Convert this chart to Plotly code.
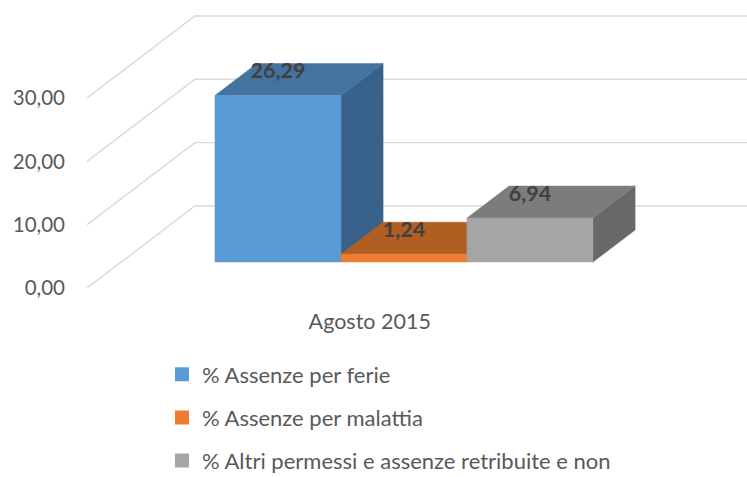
import plotly.graph_objects as go

# ---------------- data ----------------
categories = ["Agosto 2015"]
series_names = [
    "% Assenze per ferie",
    "% Assenze per malattia",
    "% Altri permessi e assenze retribuite e non",
]
series_values = [26.29, 1.24, 6.94]
y_ticks = [0, 10, 20, 30]

# ---------------- styles ----------------
front_colors = ["#5B9BD5", "#ED7D31", "#A5A5A5"]
top_colors = ["#4573A0", "#B15E23", "#7C7C7C"]
side_colors = ["#386289", "#9E521D", "#686868"]
grid_color = "#D9D9D9"
font_family = "Lato, 'Open Sans', sans-serif"

# ---------------- 3D projection geometry (axis units) ----------------
X_MAX = 5.238          # x range of plot area
Y_MAX = 45.47          # y range of plot area
DEPTH_DX = 0.857       # floor depth, x shift
DEPTH_DY = 12.95       # floor depth, y shift
BAR_D0, BAR_D1 = 0.317, 0.707   # bar depth span (fraction of floor depth)
GROUP_X0 = 0.744       # left of bar group in front plane
BAR_W = 1.0


def proj(x, y, d):
    return x + d * DEPTH_DX, y + d * DEPTH_DY


def poly(points):
    xs, ys = [], []
    for x, y, d in points:
        px, py = proj(x, y, d)
        xs.append(px)
        ys.append(py)
    xs.append(xs[0])
    ys.append(ys[0])
    return xs, ys


fig = go.Figure()

# gridlines: diagonal on the left wall + horizontal on back wall
for v in y_ticks:
    x0, y0 = proj(0, v, 0)
    x1, y1 = proj(0, v, 1)
    fig.add_trace(go.Scatter(
        x=[x0, x1, X_MAX], y=[y0, y1, y1], mode="lines",
        line=dict(color=grid_color, width=1.4),
        hoverinfo="skip", showlegend=False))

# bars (painted left to right)
for i, v in enumerate(series_values):
    x0 = GROUP_X0 + i * BAR_W
    x1 = x0 + BAR_W
    faces = [
        ([(x1, 0, BAR_D0), (x1, 0, BAR_D1), (x1, v, BAR_D1), (x1, v, BAR_D0)], side_colors[i]),
        ([(x0, v, BAR_D0), (x1, v, BAR_D0), (x1, v, BAR_D1), (x0, v, BAR_D1)], top_colors[i]),
        ([(x0, 0, BAR_D0), (x1, 0, BAR_D0), (x1, v, BAR_D0), (x0, v, BAR_D0)], front_colors[i]),
    ]
    for pts, col in faces:
        xs, ys = poly(pts)
        fig.add_trace(go.Scatter(
            x=xs, y=ys, mode="lines", fill="toself", fillcolor=col,
            line=dict(color=col, width=0.5),
            hoverinfo="skip", showlegend=False))

# data labels
for i, v in enumerate(series_values):
    xc = GROUP_X0 + i * BAR_W + BAR_W / 2 + BAR_D0 * DEPTH_DX
    yc = v + BAR_D0 * DEPTH_DY + 0.70 * (BAR_D1 - BAR_D0) * DEPTH_DY
    fig.add_trace(go.Scatter(
        x=[xc], y=[yc], mode="text",
        text=[f"{v:.2f}".replace(".", ",")],
        textfont=dict(family=font_family, size=21.5, color="#404040", weight="bold"),
        textposition="middle center",
        hoverinfo="skip", showlegend=False))

# legend entries
for i, name in enumerate(series_names):
    fig.add_trace(go.Scatter(
        x=[None], y=[None], mode="markers", name=name,
        marker=dict(symbol="square", size=14, color=front_colors[i]),
        legendgroup=f"g{i}", showlegend=True))

cat_x = [GROUP_X0 + len(series_values) * BAR_W / 2]

fig.update_layout(
    width=747, height=477,
    margin=dict(l=87, r=0, t=0, b=189, autoexpand=False),
    paper_bgcolor="white", plot_bgcolor="white",
    separators=",.",
    font=dict(family=font_family, size=21, color="#595959"),
    xaxis=dict(range=[0, X_MAX], showgrid=False, zeroline=False, showline=False,
               tickvals=cat_x, ticktext=categories, ticks="",
               tickfont=dict(size=21.5),
               ticklabelstandoff=18, fixedrange=True, automargin=False),
    yaxis=dict(range=[0, Y_MAX], showgrid=False, zeroline=False, showline=False,
               tickvals=y_ticks, tickformat=".2f", ticks="",
               tickfont=dict(size=20.5),
               ticklabelstandoff=21, fixedrange=True, automargin=False),
    showlegend=True,
    legend=dict(x=0.1136, y=-0.2275, xanchor="left", yanchor="top",
                orientation="v", tracegroupgap=11.5,
                font=dict(family=font_family, size=22, color="#595959"),
                bgcolor="rgba(0,0,0,0)"),
)

fig.write_html("out.html",
               config={"displayModeBar": False, "staticPlot": True},
               post_script="document.body.style.margin='0';document.body.style.padding='0';")
